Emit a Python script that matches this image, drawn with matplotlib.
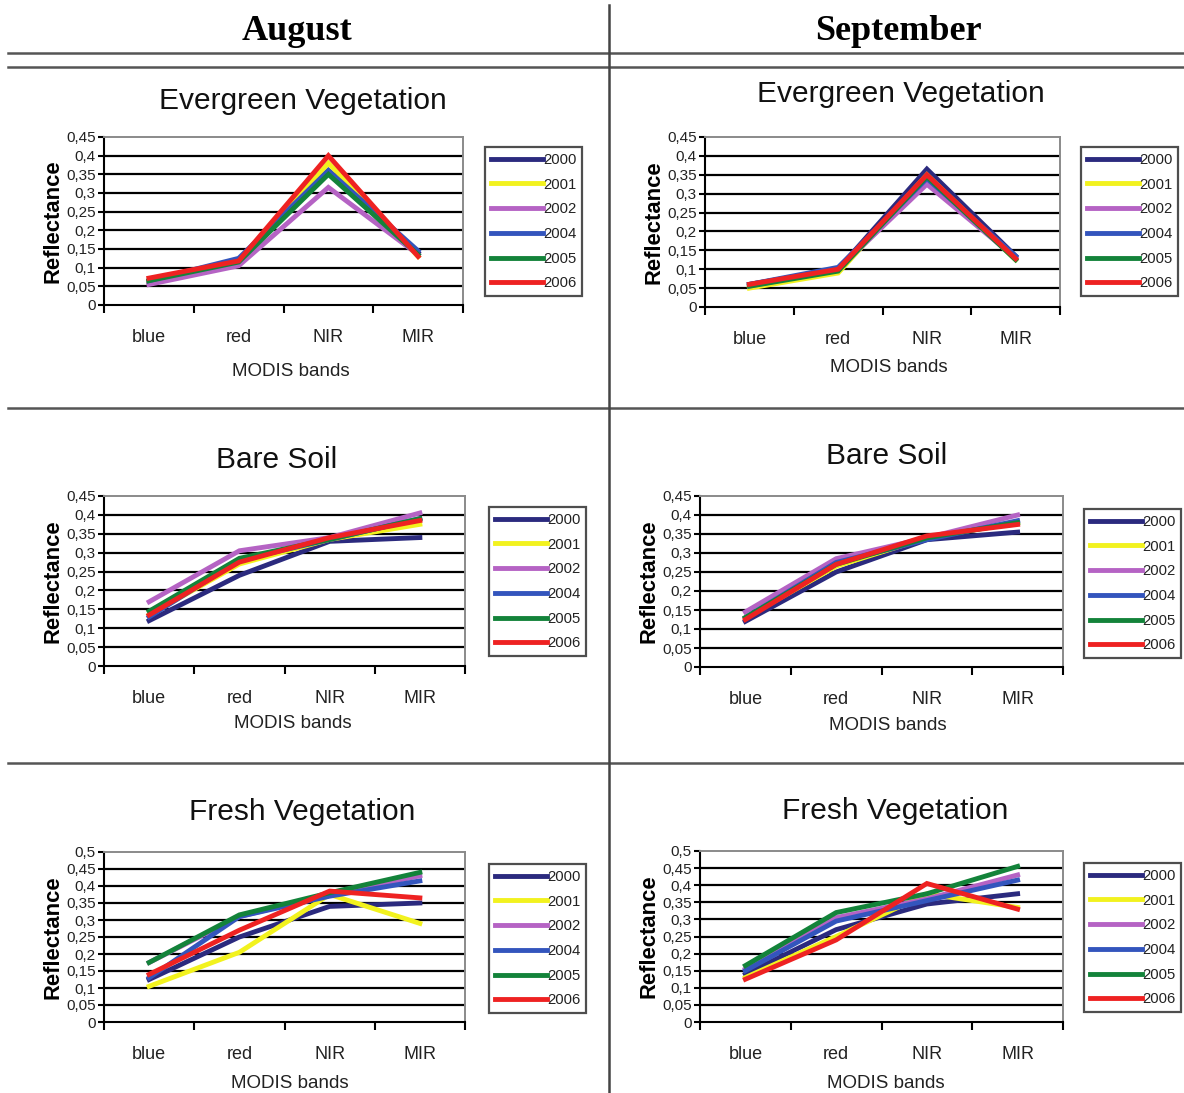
import numpy as np
import matplotlib
matplotlib.use("Agg")
import matplotlib.pyplot as plt
from matplotlib.lines import Line2D
from matplotlib.ticker import FuncFormatter, FixedLocator

W, H = 1184, 1093

BANDS = ["blue", "red", "NIR", "MIR"]
YEARS = ["2000", "2001", "2002", "2004", "2005", "2006"]
COLORS = ["#2b2a7e", "#f2f21e", "#b563c4", "#3355bd", "#13833a", "#ee2222"]

# ---- reflectance per year, order blue/red/NIR/MIR ----
aug_evergreen = {
    "2000": [0.060, 0.120, 0.360, 0.140],
    "2001": [0.060, 0.110, 0.380, 0.130],
    "2002": [0.055, 0.105, 0.315, 0.135],
    "2004": [0.065, 0.125, 0.360, 0.145],
    "2005": [0.065, 0.115, 0.350, 0.135],
    "2006": [0.072, 0.118, 0.400, 0.130],
}
sep_evergreen = {
    "2000": [0.060, 0.100, 0.365, 0.135],
    "2001": [0.050, 0.090, 0.350, 0.125],
    "2002": [0.055, 0.100, 0.325, 0.130],
    "2004": [0.060, 0.105, 0.340, 0.135],
    "2005": [0.055, 0.095, 0.345, 0.125],
    "2006": [0.060, 0.100, 0.350, 0.128],
}
aug_soil = {
    "2000": [0.120, 0.240, 0.330, 0.340],
    "2001": [0.135, 0.270, 0.335, 0.375],
    "2002": [0.170, 0.305, 0.340, 0.405],
    "2004": [0.130, 0.280, 0.335, 0.390],
    "2005": [0.145, 0.285, 0.335, 0.390],
    "2006": [0.135, 0.275, 0.340, 0.385],
}
sep_soil = {
    "2000": [0.120, 0.250, 0.335, 0.355],
    "2001": [0.130, 0.265, 0.340, 0.380],
    "2002": [0.145, 0.285, 0.340, 0.400],
    "2004": [0.130, 0.275, 0.335, 0.385],
    "2005": [0.130, 0.270, 0.340, 0.380],
    "2006": [0.125, 0.270, 0.345, 0.375],
}
aug_fresh = {
    "2000": [0.125, 0.250, 0.340, 0.350],
    "2001": [0.105, 0.205, 0.375, 0.290],
    "2002": [0.175, 0.310, 0.375, 0.430],
    "2004": [0.130, 0.310, 0.370, 0.415],
    "2005": [0.175, 0.315, 0.380, 0.440],
    "2006": [0.140, 0.270, 0.385, 0.365],
}
sep_fresh = {
    "2000": [0.140, 0.270, 0.345, 0.375],
    "2001": [0.130, 0.250, 0.375, 0.335],
    "2002": [0.155, 0.305, 0.360, 0.430],
    "2004": [0.150, 0.295, 0.355, 0.415],
    "2005": [0.165, 0.320, 0.375, 0.455],
    "2006": [0.125, 0.240, 0.405, 0.330],
}

SANS = ["Liberation Sans", "DejaVu Sans"]

fig = plt.figure(figsize=(W / 100, H / 100), dpi=100)


def fx(x):
    return x / W


def fy(y):
    return 1 - y / H


def comma(v, pos):
    return "0" if v == 0 else f"{v:g}".replace(".", ",")


def panel(data, title, box, ymax, title_xy, xlab_xy, leg_xy):
    x0, x1, yt, yb = box
    ax = fig.add_axes([fx(x0), fy(yb), (x1 - x0) / W, (yb - yt) / H])
    xs = np.arange(len(BANDS))
    for yr, c in zip(YEARS, COLORS):
        ax.plot(xs, data[yr], color=c, lw=3.5, label=yr, solid_joinstyle="miter")
    ax.set_xlim(-0.5, 3.5)
    ax.set_ylim(0, ymax)
    yt_vals = np.round(np.arange(0, ymax + 1e-9, 0.05), 2)
    ax.yaxis.set_major_locator(FixedLocator(yt_vals))
    ax.yaxis.set_major_formatter(FuncFormatter(comma))
    for v in yt_vals[1:-1]:
        ax.axhline(v, color="black", lw=1.6, zorder=0.5)
    ax.xaxis.set_major_locator(FixedLocator([-0.5, 0.5, 1.5, 2.5, 3.5]))
    ax.xaxis.set_major_formatter(FuncFormatter(lambda v, p: ""))
    ax.xaxis.set_minor_locator(FixedLocator(xs))
    ax.set_xticklabels(BANDS, minor=True)
    ax.tick_params(axis="x", which="major", length=6, width=1.5, direction="out")
    ax.tick_params(axis="x", which="minor", length=0, pad=17)
    ax.tick_params(axis="y", length=4, width=1.5, pad=2)
    for lab in ax.get_xticklabels(minor=True):
        lab.set_fontfamily(SANS)
        lab.set_fontsize(13)
        lab.set_color("#222222")
    for lab in ax.get_yticklabels():
        lab.set_fontfamily(SANS)
        lab.set_fontsize(11)
        lab.set_color("#222222")
    for s in ("top", "right"):
        ax.spines[s].set_color("#8a8a8a")
        ax.spines[s].set_linewidth(1.4)
    for s in ("left", "bottom"):
        ax.spines[s].set_color("black")
        ax.spines[s].set_linewidth(1.5)
    ax.set_ylabel("Reflectance", fontsize=15.8, fontweight="bold", family=SANS,
                  labelpad=2)
    fig.text(fx(title_xy[0]), fy(title_xy[1]), title, ha="center", va="center",
             fontsize=21.5, family=SANS, color="#111111")
    fig.text(fx(xlab_xy[0]), fy(xlab_xy[1]), "MODIS bands", ha="center",
             va="center", fontsize=13.5, family=SANS, color="#222222")
    leg = ax.legend(loc="upper left", bbox_to_anchor=(fx(leg_xy[0]), fy(leg_xy[1])),
                    bbox_transform=fig.transFigure, frameon=True, fancybox=False,
                    handlelength=3.5, handletextpad=0.0, labelspacing=0.72,
                    borderpad=0.4, borderaxespad=0,
                    prop={"family": SANS, "size": 10.7})
    leg.get_frame().set_edgecolor("#222222")
    leg.get_frame().set_linewidth(1.6)
    for t in leg.get_texts():
        t.set_color("#222222")
    return ax


panel(aug_evergreen, "Evergreen Vegetation", (104, 463, 137, 305), 0.45,
      (303, 101), (291, 371), (485, 147))
panel(sep_evergreen, "Evergreen Vegetation", (705, 1060, 137, 307), 0.45,
      (901, 94), (889, 367), (1081, 147))
panel(aug_soil, "Bare Soil", (104, 465, 496, 666), 0.45,
      (277, 460), (293, 724), (489, 507))
panel(sep_soil, "Bare Soil", (700, 1063, 496, 667), 0.45,
      (887, 456), (888, 726), (1084, 509))
panel(aug_fresh, "Fresh Vegetation", (104, 465, 852, 1022), 0.5,
      (302, 812), (290, 1083), (489, 864))
panel(sep_fresh, "Fresh Vegetation", (700, 1063, 851, 1022), 0.5,
      (895, 811), (886, 1083), (1084, 863))

# ---- table frame: header, double rule, column and row separators ----
fig.text(fx(297), fy(31), "August", ha="center", va="center", fontsize=26,
         fontweight="bold", family=["Liberation Serif", "DejaVu Serif"])
fig.text(fx(898), fy(31), "September", ha="center", va="center", fontsize=26,
         fontweight="bold", family=["Liberation Serif", "DejaVu Serif"])
for yy in (53, 67, 408, 763):
    fig.add_artist(Line2D([fx(8), 1], [fy(yy), fy(yy)], color="#555555",
                          lw=1.8, transform=fig.transFigure))
fig.add_artist(Line2D([fx(609), fx(609)], [fy(5), 0], color="#444444", lw=1.8,
                      transform=fig.transFigure))

fig.savefig("out.png", dpi=100)
